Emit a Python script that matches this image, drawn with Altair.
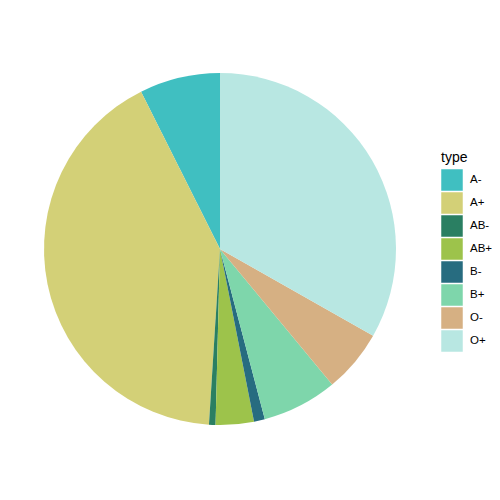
import altair as alt
import pandas as pd

types = ["A-", "A+", "AB-", "AB+", "B-", "B+", "O-", "O+"]
shares = [7.4, 41.6, 0.6, 3.5, 1.0, 6.9, 5.8, 33.2]
draw_order = [8, 7, 6, 5, 4, 3, 2, 1]
colors = ["#40BFC1", "#D3D077", "#2A7F62", "#9DC34B", "#276C80", "#7ED6AB", "#D6B083", "#B8E7E2"]

df = pd.DataFrame({"type": types, "share": shares, "ord": draw_order})

chart = alt.Chart(df).mark_arc(outerRadius=176, stroke=None).encode(
    theta=alt.Theta("share:Q", stack=True),
    order=alt.Order("ord:Q", sort="ascending"),
    color=alt.Color(
        "type:N",
        scale=alt.Scale(domain=types, range=colors),
        legend=alt.Legend(
            title="type",
            orient="none",
            legendX=397,
            legendY=78,
            symbolType="square",
            symbolSize=462,
            symbolStrokeWidth=0,
            symbolOpacity=1,
            rowPadding=1,
            labelOffset=7,
            titlePadding=4,
            titleFontSize=14,
            titleFontWeight="normal",
            titleColor="#000000",
            titleFont="Liberation Sans",
            labelFont="Liberation Sans",
            labelFontSize=11.5,
            labelColor="#000000",
        ),
    ),
).properties(
    width=352,
    height=352,
    autosize=alt.AutoSizeParams(type="none"),
    padding={"left": 36, "top": 65, "right": 96, "bottom": 10},
).configure_view(stroke=None)

chart.save("out.html", embed_options={"renderer": "svg", "actions": False})
